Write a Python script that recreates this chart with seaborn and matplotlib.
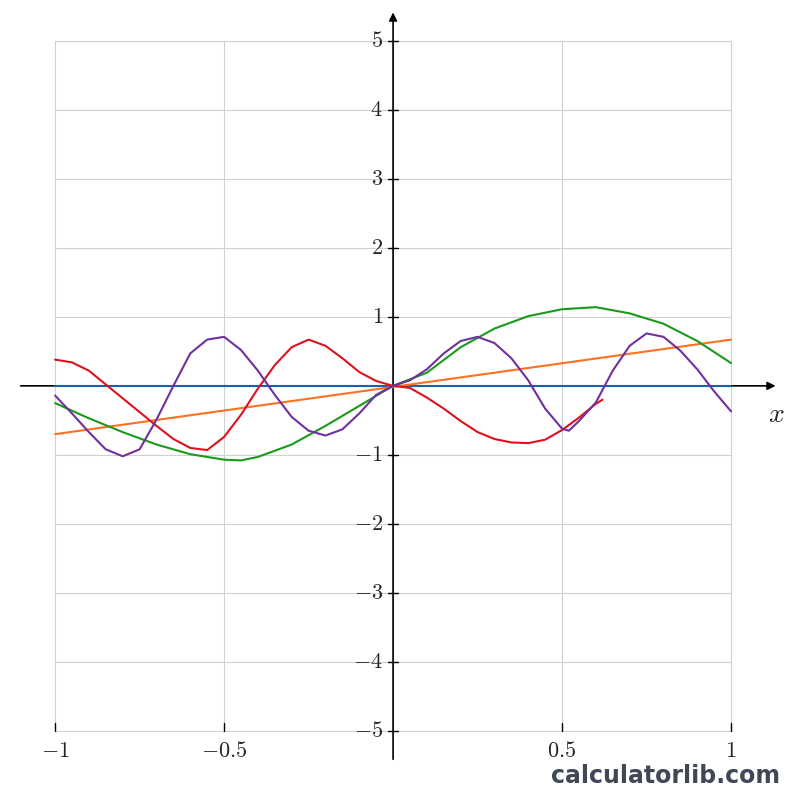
import numpy as np
import matplotlib
matplotlib.use("Agg")
import matplotlib.pyplot as plt
import seaborn as sns

sns.set_theme(style="white")
plt.rcParams["mathtext.fontset"] = "cm"

# values
x_line = [-1.0, 1.0]
y_blue = [0.0, 0.0]
y_orange = [-0.70, 0.67]

x_green = [-1.0, -0.9, -0.8, -0.7, -0.6, -0.5, -0.45, -0.4, -0.3, -0.2, -0.1, 0.0,
           0.1, 0.2, 0.3, 0.4, 0.5, 0.6, 0.7, 0.8, 0.9, 1.0]
y_green = [-0.25, -0.47, -0.67, -0.85, -0.99, -1.07, -1.08, -1.03, -0.85, -0.58, -0.29, 0.0,
           0.19, 0.56, 0.83, 1.01, 1.11, 1.14, 1.05, 0.90, 0.65, 0.33]

x_red = [-1.0, -0.95, -0.9, -0.85, -0.8, -0.75, -0.7, -0.65, -0.6, -0.55, -0.5, -0.45, -0.4, -0.35,
         -0.3, -0.25, -0.2, -0.15, -0.1, -0.05, 0.0, 0.05, 0.1, 0.15, 0.2, 0.25, 0.3, 0.35,
         0.4, 0.45, 0.5, 0.55, 0.6, 0.62]
y_red = [0.38, 0.34, 0.22, 0.02, -0.18, -0.38, -0.58, -0.77, -0.90, -0.93, -0.74, -0.42, -0.04, 0.30,
         0.56, 0.67, 0.58, 0.40, 0.20, 0.07, 0.0, -0.03, -0.17, -0.33, -0.51, -0.67, -0.77, -0.82,
         -0.83, -0.78, -0.64, -0.46, -0.26, -0.2]

x_purple = [-1.0, -0.95, -0.9, -0.85, -0.8, -0.75, -0.7, -0.65, -0.6, -0.55, -0.5, -0.45, -0.4,
            -0.35, -0.3, -0.25, -0.2, -0.15, -0.1, -0.05, 0.0, 0.05, 0.1, 0.15, 0.2, 0.25, 0.3,
            0.35, 0.4, 0.45, 0.5, 0.52, 0.55, 0.6, 0.65, 0.7, 0.75, 0.8, 0.85, 0.9, 0.95, 1.0]
y_purple = [-0.14, -0.40, -0.67, -0.92, -1.02, -0.92, -0.49, 0.0, 0.47, 0.67, 0.71, 0.52, 0.22,
            -0.13, -0.45, -0.65, -0.72, -0.63, -0.40, -0.13, 0.0, 0.08, 0.24, 0.47, 0.65, 0.71, 0.62,
            0.40, 0.08, -0.33, -0.62, -0.65, -0.51, -0.24, 0.22, 0.58, 0.76, 0.71, 0.51, 0.24, -0.08, -0.37]

x_ticks = [-1, -0.5, 0.5, 1]
x_tick_labels = ["$-1$", "$-0.5$", "$0.5$", "$1$"]
y_ticks = [-5, -4, -3, -2, -1, 1, 2, 3, 4, 5]

fig = plt.figure(figsize=(8, 8), dpi=100)
ax = fig.add_axes([0, 0, 1, 1])
ax.set_xlim(-1.163, 1.204)
ax.set_ylim(-6.0, 5.59)
ax.axis("off")

# grid
for gx in [-1, -0.5, 0, 0.5, 1]:
    ax.plot([gx, gx], [-5, 5], color="#d0d0d0", lw=0.8, zorder=0)
for gy in range(-5, 6):
    ax.plot([-1, 1], [gy, gy], color="#d0d0d0", lw=0.8, zorder=0)

# axes arrows
ax.annotate("", xy=(1.14, 0), xytext=(-1.11, 0),
            arrowprops=dict(arrowstyle="-|>", color="black", lw=1.2, mutation_scale=12))
ax.annotate("", xy=(0, 5.45), xytext=(0, -5.45),
            arrowprops=dict(arrowstyle="-|>", color="black", lw=1.2, mutation_scale=12))
ax.text(1.135, -0.2, "$x$", fontsize=20, ha="center", va="top")

for t, lab in zip(x_ticks, x_tick_labels):
    ax.plot([t, t], [-5, -4.88], color="black", lw=1)
    ax.text(t, -5.15, lab, fontsize=16, ha="center", va="top")
for t in y_ticks:
    ax.plot([-0.015, 0.015], [t, t], color="black", lw=1)
    ax.text(-0.03, t, f"${t}$".replace("-", "-"), fontsize=16, ha="right", va="center")

sns.lineplot(x=x_line, y=y_blue, color="#1f5fa8", lw=1.5, ax=ax, zorder=3)
sns.lineplot(x=x_line, y=y_orange, color="#ff7020", lw=1.5, ax=ax, zorder=3)
sns.lineplot(x=x_green, y=y_green, color="#1a9a1a", lw=1.5, ax=ax, zorder=3)
sns.lineplot(x=x_red, y=y_red, color="#e0101e", lw=1.5, ax=ax, zorder=3, sort=False)
sns.lineplot(x=x_purple, y=y_purple, color="#7030a0", lw=1.5, ax=ax, zorder=4, sort=False)

fig.text(0.975, 0.015, "calculatorlib.com", fontsize=17, fontweight="bold",
         color="#404858", ha="right", va="bottom")

fig.savefig("out.png", dpi=100)
